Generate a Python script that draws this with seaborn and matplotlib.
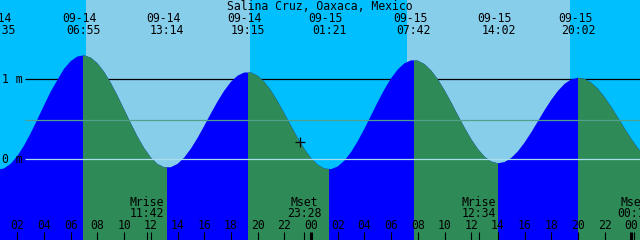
import matplotlib
matplotlib.use("Agg")
import matplotlib.pyplot as plt
import seaborn as sns
import pandas as pd
from matplotlib.transforms import blended_transform_factory

# ---------------- data ----------------
title = "Salina Cruz, Oaxaca, Mexico"

# half-hourly samples: hours since 09-14 00:00 and water level (m)
hours = [h / 2 for h in range(99)]
levels = [-0.10, -0.13, -0.115, -0.057, 0.04, 0.170, 0.325, 0.497, 0.674, 0.845,
          0.99, 1.131, 1.227, 1.285, 1.30, 1.271, 1.20, 1.093, 0.956, 0.796,
          0.624, 0.450, 0.286, 0.140, 0.023, -0.059, -0.100, -0.099, -0.058, 0.021,
          0.132, 0.266, 0.417, 0.573, 0.723, 0.857, 0.968, 1.045, 1.085, 1.085,
          1.045, 0.968, 0.860, 0.726, 0.576, 0.420, 0.268, 0.131, 0.016, -0.068,
          -0.115, -0.123, -0.090, -0.017, 0.090, 0.226, 0.382, 0.549, 0.717, 0.874,
          1.013, 1.123, 1.200, 1.237, 1.233, 1.190, 1.110, 1.000, 0.864, 0.712,
          0.552, 0.396, 0.252, 0.128, 0.033, -0.028, -0.05, -0.034, 0.017, 0.100,
          0.210, 0.337, 0.476, 0.615, 0.744, 0.856, 0.944, 0.999, 1.02, 1.005,
          0.957, 0.879, 0.776, 0.654, 0.520, 0.384, 0.254, 0.137, 0.041]

# high / low tide events
ext_times = [0.583, 6.917, 13.233, 19.25, 25.35, 31.7, 38.033, 44.033]
ext_kinds = ["low", "high", "low", "high", "low", "high", "low", "high"]
ext_dates = ["09-14", "09-14", "09-14", "09-14", "09-15", "09-15", "09-15", "09-15"]
ext_clock = ["00:35", "06:55", "13:14", "19:15", "01:21", "07:42", "14:02", "20:02"]

# sun
sunrise = [7.18, 31.17]
sunset = [19.40, 43.37]

# moon events
moon_times = [11.70, 23.467, 36.567, 48.217]
moon_names = ["Mrise", "Mset", "Mrise", "Mset"]
moon_clock = ["11:42", "23:28", "12:34", "00:13"]

# reference levels (m)
level_lines = [1.0, 0.49, 0.0]
level_labels = ["1 m", "", "0 m"]

# hour tick labels (every 2 h)
tick_hours = list(range(0, 50, 2))
midnights = [0, 24, 48]

# current-time mark
mark_time = [23.17]
mark_level = [0.22]

# ---------------- style ----------------
NIGHT = "#00BFFF"
DAY = "#87CEEB"
FLOOD = "#0000FF"
EBB = "#2E8B57"
MSL_COL = "#50A08C"
DATUM_COL = "#A8DDEE"

sns.set_theme(style="white")
plt.rcParams["font.family"] = ["DejaVu Sans Mono", "DejaVu Sans"]
FS = 8.3

W, H = 640, 240
PPH = 13.35          # pixels per hour
T0 = 0.704           # hour at left edge
ZERO_PX = 159.3      # pixel row of 0 m
PPM = 80.0           # pixels per metre

fig = plt.figure(figsize=(W / 100, H / 100), dpi=100)
ax = fig.add_axes([0, 0, 1, 1])
ax.set_xlim(T0, T0 + W / PPH)
ax.set_ylim(-(H - ZERO_PX) / PPM, ZERO_PX / PPM)
ax.set_axis_off()
ax.set_facecolor(NIGHT)

def ypx(p):
    return 1 - p / H

def t_of_px(p):
    return T0 + p / PPH

bt = blended_transform_factory(ax.transData, ax.transAxes)

# sky
ax.axvspan(ax.get_xlim()[0], ax.get_xlim()[1], color=NIGHT, lw=0, zorder=0)
for sr, ss in zip(sunrise, sunset):
    ax.axvspan(sr, ss, color=DAY, lw=0, zorder=0.5)

# 1 m line (behind water)
ax.hlines(level_lines[0], t_of_px(25), ax.get_xlim()[1], color="black", lw=0.9, zorder=1)

# water
df = pd.DataFrame({"hour": hours, "level": levels})
water = ax.fill_between(df["hour"], df["level"], -2, color=FLOOD, lw=0, zorder=2)
clip_path = water.get_paths()[0]
# ebb periods: high -> next low (and before first low / after last high)
bounds = [-5] + ext_times + [60]
kinds = ["high"] + ext_kinds
for i in range(len(bounds) - 1):
    if kinds[i] == "high":
        sp = ax.axvspan(bounds[i], bounds[i + 1], color=EBB, lw=0, zorder=2.5)
        sp.set_clip_path(clip_path, ax.transData)

# curve (no visible stroke, the fill carries the shape)
sns.lineplot(data=df, x="hour", y="level", ax=ax, color=FLOOD, lw=0, zorder=2.6)

# level lines over water
ax.hlines(level_lines[1], t_of_px(25), ax.get_xlim()[1], color=MSL_COL, lw=0.9, zorder=3)
ax.hlines(level_lines[2], t_of_px(25), ax.get_xlim()[1], color=DATUM_COL, lw=0.9, zorder=3)

# level labels
for lv, lab in zip(level_lines, level_labels):
    if lab:
        ax.text(t_of_px(2), lv, lab, fontsize=FS, va="center", ha="left", color="black", zorder=5)

# current mark
sns.scatterplot(x=mark_time, y=mark_level, marker="+", color="black", s=45,
                linewidth=0.9, ax=ax, zorder=6)

# title
ax.text(0.5, ypx(10), title, transform=ax.transAxes, ha="center", va="baseline",
        fontsize=FS, color="black", zorder=6)

# extreme labels
for t, d, c in zip(ext_times, ext_dates, ext_clock):
    ax.text(t - 3.5 / PPH, ypx(21.7), d, transform=bt, ha="center", va="baseline",
            fontsize=FS, color="black", zorder=6)
    ax.text(t, ypx(34), c, transform=bt, ha="center", va="baseline",
            fontsize=FS, color="black", zorder=6)

# moon labels and ticks
for t, n, c in zip(moon_times, moon_names, moon_clock):
    ax.text(t, ypx(206), n, transform=bt, ha="center", va="baseline",
            fontsize=FS, color="black", zorder=6)
    ax.text(t, ypx(217.3), c, transform=bt, ha="center", va="baseline",
            fontsize=FS, color="black", zorder=6)
    ax.vlines(t, ypx(240), ypx(231.5), transform=bt, color="black", lw=0.8, zorder=6)

# hour ticks and labels
for th in tick_hours:
    ax.text(th, ypx(229.3), f"{th % 24:02d}", transform=bt, ha="center", va="baseline",
            fontsize=FS, color="black", zorder=6)
    lw = 2.2 if th in midnights else 0.8
    ax.vlines(th, ypx(240), ypx(231.5), transform=bt, color="black", lw=lw, zorder=6)

legend = ax.get_legend()
if legend:
    legend.remove()

fig.savefig("out.png", dpi=100)
